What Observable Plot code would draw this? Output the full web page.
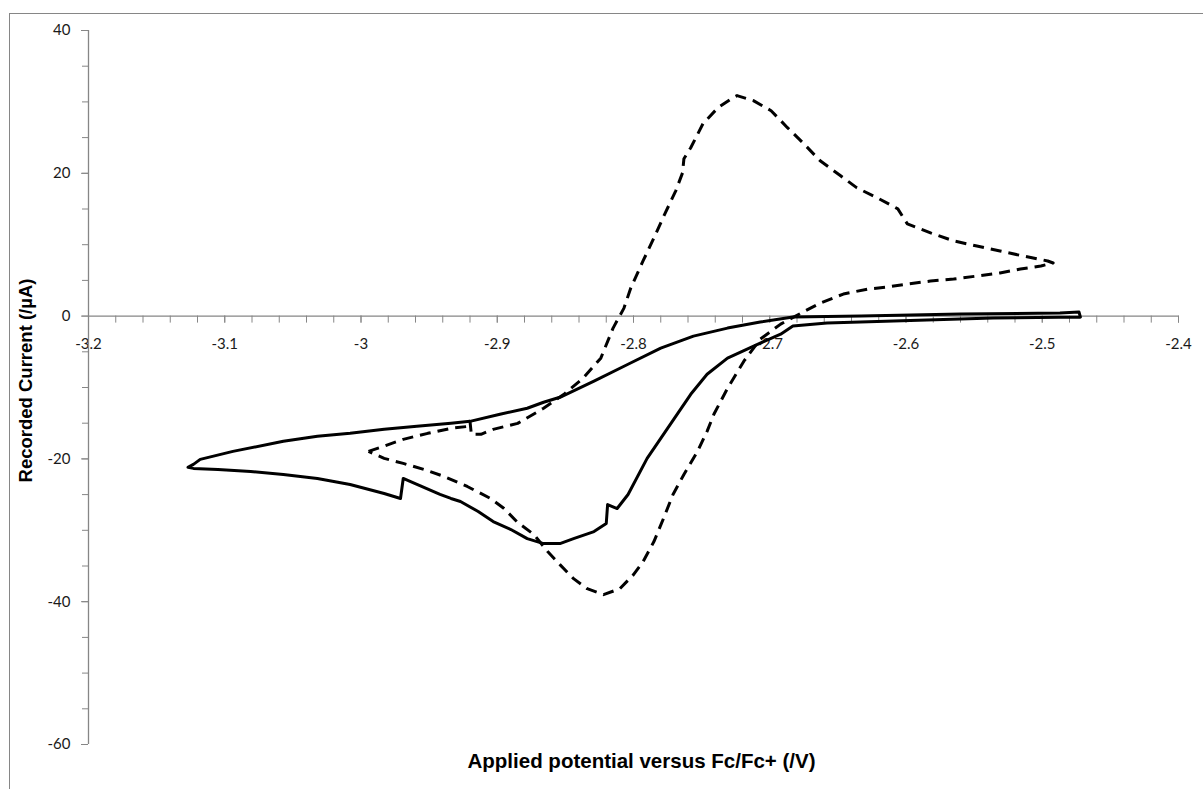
<!DOCTYPE html>
<html><head><meta charset="utf-8">
<script src="https://cdn.jsdelivr.net/npm/d3@7"></script>
<script src="https://cdn.jsdelivr.net/npm/@observablehq/plot@0.6"></script>
<style>
html,body{margin:0;padding:0;background:#fff;overflow:hidden;}
#wrap{position:relative;width:1203px;height:789px;overflow:hidden;}
#border{position:absolute;left:9px;top:13px;width:1400px;height:1000px;border:1px solid #868686;}
#chart{position:absolute;left:0;top:0;}
</style></head><body>
<div id="wrap"><div id="border"></div><div id="chart"></div></div>
<script>
// Solid cyclic voltammogram (potential V vs Fc/Fc+, current µA)
const solidV = [-2.472,-2.536,-2.609,-2.658,-2.683,-2.692,-2.707,-2.731,-2.746,-2.758,-2.775,-2.790,-2.804,-2.812,-2.819,-2.820,-2.829,-2.844,-2.854,-2.866,-2.878,-2.890,-2.903,-2.914,-2.927,-2.934,-2.942,-2.964,-2.969,-2.971,-2.983,-3.008,-3.032,-3.057,-3.081,-3.105,-3.123,-3.127,
  -3.123,-3.118,-3.094,-3.057,-3.032,-3.008,-2.983,-2.959,-2.934,-2.920,-2.898,-2.878,-2.866,-2.854,-2.829,-2.804,-2.780,-2.756,-2.731,-2.707,-2.683,-2.633,-2.560,-2.487,-2.473,-2.472];
const solidI = [-0.14,-0.28,-0.70,-0.98,-1.40,-2.53,-3.79,-5.89,-8.14,-10.95,-15.72,-19.93,-24.98,-26.95,-26.39,-29.05,-30.18,-31.16,-31.86,-31.86,-31.16,-29.89,-28.77,-27.37,-25.96,-25.54,-24.98,-23.16,-22.74,-25.54,-24.84,-23.58,-22.74,-22.18,-21.75,-21.47,-21.33,-21.19,
  -20.77,-20.07,-18.95,-17.54,-16.84,-16.42,-15.86,-15.44,-15.02,-14.74,-13.75,-12.91,-12.07,-11.37,-9.12,-6.74,-4.49,-2.81,-1.68,-0.84,-0.14,0.0,0.28,0.42,0.56,-0.14];

// Dashed cyclic voltammogram
const dashedV = [-2.9945,-2.9835,-2.969,-2.951,-2.934,-2.921,-2.920,-2.919,-2.912,-2.903,-2.885,-2.866,-2.851,-2.837,-2.824,-2.815,-2.807,-2.802,-2.793,-2.785,-2.777,-2.769,-2.764,-2.763,-2.758,-2.749,-2.738,-2.727,-2.724,-2.712,-2.699,-2.687,-2.675,-2.663,-2.648,-2.636,-2.621,-2.606,-2.599,-2.582,-2.565,-2.548,-2.531,-2.514,-2.496,-2.492,
  -2.501,-2.516,-2.531,-2.548,-2.565,-2.582,-2.599,-2.614,-2.628,-2.646,-2.663,-2.677,-2.692,-2.707,-2.719,-2.731,-2.741,-2.746,-2.753,-2.763,-2.771,-2.778,-2.785,-2.793,-2.800,-2.810,-2.822,-2.834,-2.844,-2.854,-2.863,-2.873,-2.885,-2.895,-2.905,-2.922,-2.939,-2.954,-2.969,-2.983,-2.9945];
const dashedI = [-18.95,-18.25,-17.26,-16.42,-15.72,-15.44,-14.74,-16.56,-16.56,-15.86,-15.02,-12.91,-10.95,-8.70,-5.89,-1.68,1.12,3.93,7.72,10.95,14.32,17.54,20.07,22.04,23.58,26.95,29.19,30.60,30.88,30.18,28.77,26.39,24.14,21.75,19.65,17.96,16.56,15.02,12.91,11.65,10.53,9.82,9.12,8.42,7.72,7.44,
  7.02,6.60,6.04,5.61,5.19,4.91,4.49,4.07,3.79,3.09,1.82,0.42,-1.12,-3.23,-6.32,-10.11,-13.75,-16.14,-18.95,-22.18,-24.98,-28.35,-31.58,-34.39,-36.21,-38.18,-39.02,-38.18,-36.77,-34.81,-32.98,-30.60,-28.91,-26.95,-25.54,-23.86,-22.46,-21.47,-20.63,-19.93,-18.95];

const xMajor = [-3.2,-3.1,-3,-2.9,-2.8,-2.7,-2.6,-2.5,-2.4];
const xLabels = ["-3.2","-3.1","-3","-2.9","-2.8","-2.7","-2.6","-2.5","-2.4"];
const yMajor = [-60,-40,-20,0,20,40];
const yLabels = ["-60","-40","-20","0","20","40"];
const xTitle = "Applied potential versus Fc/Fc+ (/V)";
const yTitle = "Recorded Current (/\u00B5A)";

const solid = solidV.map((v,k)=>({v, i: solidI[k]}));
const dashed = dashedV.map((v,k)=>({v, i: dashedI[k]}));
const xMinor = d3.ticks(-3.2, -2.4, 40);
const yMinor = d3.ticks(-60, 40, 25);

const W = 1203, H = 789, mL = 88, mR = 25, mT = 30, mB = 45;
const yS = Plot.scale({y: {domain: [-60, 40], range: [H - mB, mT]}});
const shift = yS.apply(0) - (H - mB);
const axisColor = "#868686";
const txt = "#1a1a1a";
const xFmt = d => xLabels[xMajor.findIndex(t => Math.abs(t - d) < 1e-9)];
const yFmt = d => yLabels[yMajor.indexOf(d)];
const titleFont = "'Liberation Sans', Arial, sans-serif";

const chart = Plot.plot({
  width: W, height: H,
  marginLeft: mL, marginRight: mR, marginTop: mT, marginBottom: mB,
  style: {background: "transparent", fontFamily: "Lato, 'Open Sans', sans-serif", fontSize: "15px", color: txt, overflow: "visible"},
  x: {domain: [-3.2, -2.4], label: null},
  y: {domain: [-60, 40], label: null},
  marks: [
    Plot.axisY(yMinor, {tickSize: 6, fill: "none", stroke: axisColor, label: null}),
    Plot.axisY(yMajor, {tickSize: 7, tickPadding: 11, tickFormat: yFmt, stroke: axisColor, fill: txt, label: null, fontSize: 15}),
    Plot.axisX(xMinor, {tickSize: 7, fill: "none", dy: shift, stroke: axisColor, label: null}),
    Plot.axisX(xMajor, {tickSize: 7, tickPadding: 15, dy: shift, tickFormat: xFmt, stroke: axisColor, fill: txt, label: null, fontSize: 15}),
    Plot.ruleX([-3.2], {stroke: axisColor, strokeWidth: 1.3}),
    Plot.ruleY([0], {stroke: axisColor, strokeWidth: 1.3}),
    Plot.line(solid, {x: "v", y: "i", stroke: "#000", strokeWidth: 3, strokeLinejoin: "round"}),
    Plot.line(dashed, {x: "v", y: "i", stroke: "#000", strokeWidth: 3, strokeDasharray: "11,7", strokeLinecap: "butt", strokeLinejoin: "round"}),
    Plot.text([yTitle], {frameAnchor: "left", textAnchor: "middle", lineAnchor: "middle", dx: -62, dy: -7, rotate: -90, fontWeight: "bold", fontSize: 18.5, fontFamily: titleFont, fill: "#000"}),
    Plot.text([xTitle], {frameAnchor: "bottom", textAnchor: "middle", lineAnchor: "middle", dx: 8, dy: 17, fontWeight: "bold", fontSize: 20.5, fontFamily: titleFont, fill: "#000"})
  ]
});
document.getElementById("chart").appendChild(chart);
</script>
</body></html>
